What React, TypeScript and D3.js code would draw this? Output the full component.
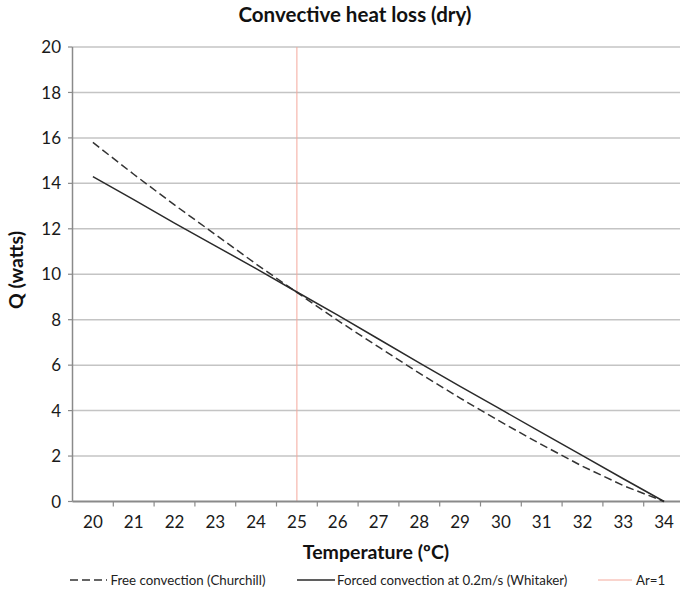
import * as d3 from "d3";

const temps = ["20", "21", "22", "23", "24", "25", "26", "27", "28", "29", "30", "31", "32", "33", "34"];
const freeConvection = [15.8, 14.4, 13.05, 11.75, 10.45, 9.2, 7.97, 6.8, 5.65, 4.55, 3.5, 2.5, 1.55, 0.7, 0];
const forcedConvection = [14.3, 13.28, 12.25, 11.25, 10.25, 9.22, 8.2, 7.15, 6.1, 5.07, 4.05, 3.03, 2.02, 1.0, 0];
const yTicks = [0, 2, 4, 6, 8, 10, 12, 14, 16, 18, 20];
const arOneTemp = "25";

const W = 680;
const H = 591;
const font = "Lato, 'Open Sans', sans-serif";

export default function App() {
  const x = d3.scaleBand<string>().domain(temps).range([72.5, 684.5]).paddingInner(0).paddingOuter(0);
  const y = d3.scaleLinear().domain([0, 20]).range([501.5, 47]);
  const cx = (t: string) => (x(t) ?? 0) + x.bandwidth() / 2;

  const line = d3
    .line<number>()
    .x((_, i) => cx(temps[i]))
    .y((d) => y(d));

  const [x0, x1] = x.range();

  return (
    <svg width={W} height={H} style={{ position: "absolute", left: 0, top: 0 }} fontFamily={font}>
      <rect width={W} height={H} fill="#fff" />
      <text x={355} y={22} textAnchor="middle" fontSize={20.5} fontWeight="bold" fill="#111">
        Convective heat loss (dry)
      </text>

      {/* gridlines */}
      {yTicks.map((t) => (
        <g key={t}>
          {t > 0 && <line x1={x0} x2={x1} y1={y(t)} y2={y(t)} stroke="#c4c4c4" strokeWidth={1.5} />}
          <line x1={x0 - 4.5} x2={x0} y1={y(t)} y2={y(t)} stroke="#8a8a8a" strokeWidth={1.2} />
          <text x={61} y={y(t)} dy="0.36em" textAnchor="end" fontSize={17} fill="#1a1a1a">
            {t}
          </text>
        </g>
      ))}

      {/* Ar=1 marker */}
      <line x1={cx(arOneTemp)} x2={cx(arOneTemp)} y1={y(20)} y2={y(0)} stroke="#f4a99c" strokeWidth={1} />

      {/* axes */}
      <line x1={x0} x2={x0} y1={y(20)} y2={y(0)} stroke="#8a8a8a" strokeWidth={1.5} />
      <line x1={x0} x2={x1} y1={y(0)} y2={y(0)} stroke="#8a8a8a" strokeWidth={1.8} />
      {temps.map((t, i) => (
        <g key={t}>
          {i > 0 && (
            <line x1={x(t)} x2={x(t)} y1={y(0)} y2={y(0) + 5} stroke="#8a8a8a" strokeWidth={1.2} />
          )}
          <text x={cx(t)} y={522} dy="0.36em" textAnchor="middle" fontSize={17} fill="#1a1a1a">
            {t}
          </text>
        </g>
      ))}

      {/* series */}
      <path d={line(freeConvection) ?? ""} fill="none" stroke="#333" strokeWidth={1.5} strokeDasharray="8 4" />
      <path d={line(forcedConvection) ?? ""} fill="none" stroke="#2a2a2a" strokeWidth={1.5} />

      {/* axis titles */}
      <text x={376} y={552} dy="0.36em" textAnchor="middle" fontSize={19.5} fontWeight="bold" fill="#111">
        Temperature (ºC)
      </text>
      <text
        transform="translate(16,270) rotate(-90)"
        dy="0.36em"
        textAnchor="middle"
        fontSize={19.5}
        fontWeight="bold"
        fill="#111"
      >
        Q (watts)
      </text>

      {/* legend */}
      <g fontSize={13.3} fill="#222">
        <line x1={70} x2={107} y1={580} y2={580} stroke="#333" strokeWidth={1.5} strokeDasharray="8 4" />
        <text x={110.5} y={580} dy="0.36em">Free convection (Churchill)</text>
        <line x1={297} x2={335} y1={580} y2={580} stroke="#2a2a2a" strokeWidth={1.5} />
        <text x={337} y={580} dy="0.36em">Forced convection at 0.2m/s (Whitaker)</text>
        <line x1={598} x2={632} y1={580} y2={580} stroke="#f4a99c" strokeWidth={1} />
        <text x={636} y={580} dy="0.36em">Ar=1</text>
      </g>
    </svg>
  );
}
